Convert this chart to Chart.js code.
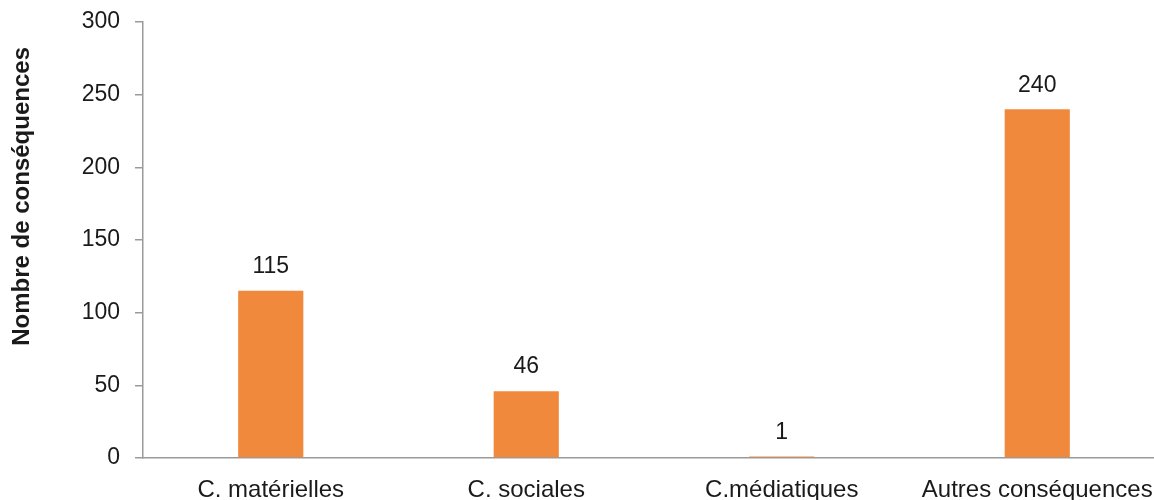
<!DOCTYPE html>
<html>
<head>
<meta charset="utf-8">
<script src="https://cdn.jsdelivr.net/npm/chart.js@4.4.0/dist/chart.umd.min.js"></script>
<style>
  html, body { margin: 0; padding: 0; background: #fff; overflow: hidden; }
  #wrap { position: relative; width: 1165px; height: 500px; }
</style>
</head>
<body>
<div id="wrap"><canvas id="chart"></canvas></div>
<script>
const categories = ['C. matérielles', 'C. sociales', 'C.médiatiques', 'Autres conséquences'];
const counts = [115, 46, 1, 240];
const yTitle = 'Nombre de conséquences';

const font = '"Liberation Sans", Arial, Helvetica, sans-serif';
const axisColor = '#9a9a9a';

// value written above each bar
const barLabels = {
    id: 'barLabels',
    afterDatasetsDraw(chart) {
        const ctx = chart.ctx;
        const meta = chart.getDatasetMeta(0);
        ctx.save();
        ctx.font = '23px ' + font;
        ctx.fillStyle = '#1a1a1a';
        ctx.textAlign = 'center';
        ctx.textBaseline = 'middle';
        meta.data.forEach((bar, i) => {
            ctx.fillText(String(counts[i]), bar.x, bar.y - 24);
        });
        ctx.restore();
    }
};

// y axis title, sits a bit above the middle of the axis like the original
const yTitlePlugin = {
    id: 'yTitlePlugin',
    afterDraw(chart) {
        const ctx = chart.ctx;
        const area = chart.chartArea;
        ctx.save();
        ctx.translate(22, area.top + (area.bottom - area.top) * 0.4);
        ctx.rotate(-Math.PI / 2);
        ctx.font = 'bold 24px ' + font;
        ctx.fillStyle = '#1a1a1a';
        ctx.textAlign = 'center';
        ctx.textBaseline = 'middle';
        ctx.fillText(yTitle, 0, 0);
        ctx.restore();
    }
};

new Chart(document.getElementById('chart'), {
    type: 'bar',
    data: {
        labels: categories,
        datasets: [{
            data: counts,
            backgroundColor: '#F0893B',
            borderWidth: 0,
            barPercentage: 0.255,
            categoryPercentage: 1
        }]
    },
    options: {
        responsive: true,
        maintainAspectRatio: false,
        animation: false,
        layout: { padding: { top: 22, right: 0, bottom: 0, left: 0 } },
        plugins: {
            legend: { display: false },
            tooltip: { enabled: false }
        },
        scales: {
            x: {
                grid: { display: false },
                border: { display: true, color: axisColor, width: 1.5 },
                ticks: {
                    color: '#1a1a1a',
                    font: { family: font, size: 24 },
                    padding: 10,
                    maxRotation: 0,
                    autoSkip: false
                },
                afterFit(scale) { scale.height = 42; }
            },
            y: {
                min: 0,
                max: 300,
                ticks: {
                    stepSize: 50,
                    color: '#1a1a1a',
                    font: { family: font, size: 23 },
                    padding: 15
                },
                grid: {
                    drawOnChartArea: false,
                    drawTicks: true,
                    tickLength: 8,
                    color: axisColor,
                    lineWidth: 1.5
                },
                border: { display: true, color: axisColor, width: 1.5 },
                afterFit(scale) {
                    scale.width = 143;
                    scale.paddingTop = 0;
                    scale.paddingBottom = 0;
                }
            }
        }
    },
    plugins: [barLabels, yTitlePlugin]
});
</script>
</body>
</html>
